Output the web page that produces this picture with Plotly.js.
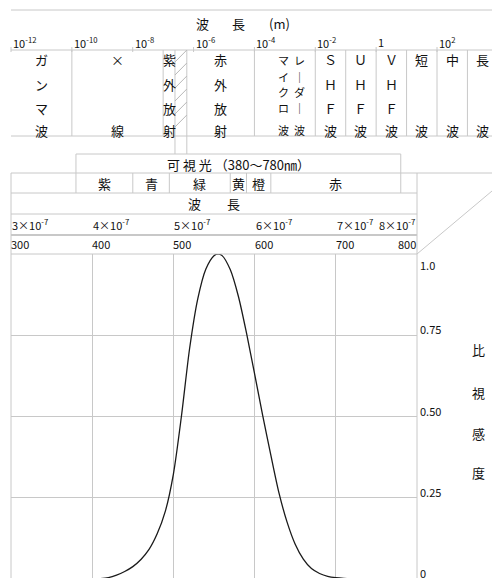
<!DOCTYPE html>
<html><head><meta charset="utf-8">
<script src="https://cdn.plot.ly/plotly-3.0.1.min.js"></script>
<style>html,body{margin:0;padding:0;overflow:hidden;background:#fff}</style>
</head><body>
<div id="chart" style="width:492px;height:580px"></div>
<script>
// ---------- data ----------
const wavelengthNm = [400,410,420,430,440,450,460,470,480,490,500,510,520,530,540,550,555,560,570,580,590,600,610,620,630,640,650,660,670,680,690,700,710,720];
const relativeLuminosity = [0.0004,0.0012,0.004,0.0116,0.023,0.038,0.06,0.091,0.139,0.208,0.323,0.503,0.71,0.862,0.954,0.995,1.0,0.995,0.952,0.87,0.757,0.631,0.503,0.381,0.265,0.175,0.107,0.061,0.032,0.017,0.0082,0.0041,0.0021,0.001];

const nmTicks = [300,400,500,600,700,800];
const nmTickLabels = ['300','400','500','600','700','800'];
const meterTickLabels = ['3×10<sup>-7</sup>','4×10<sup>-7</sup>','5×10<sup>-7</sup>','6×10<sup>-7</sup>','7×10<sup>-7</sup>','8×10<sup>-7</sup>'];

const logTickValues = [1e-12,1e-10,1e-8,1e-6,1e-4,1e-2,1,1e2,1e4];
const logTickLabels = ['10<sup>-12</sup>','10<sup>-10</sup>','10<sup>-8</sup>','10<sup>-6</sup>','10<sup>-4</sup>','10<sup>-2</sup>','1','10<sup>2</sup>','10<sup>4</sup>'];

const bandEdgesM = [1e-12,1e-10,1e-7,2.45e-7,6e-7,1e-4,1e-2,1e-1,1,10,100,1000,1e4];
const bandLabels = ['ガンマ波','×線','紫外放射','','赤外放射',['マイクロ波','レーダー波'],'ＳＨＦ波','ＵＨＦ波','ＶＨＦ波','短波','中波','長波'];

const colorNames = ['紫','青','緑','黄','橙','赤'];
const colorEdgesNm = [380,450,495,570,590,620,780];
const visibleLabel = '可 視 光 （380～780㎚）';

const yTickValues = [1.0,0.75,0.5,0.25,0];
const yTickLabels = ['1.0','0.75','0.50','0.25','0'];
const yTitleChars = ['比','視','感','度'];

// ---------- geometry helpers (pixels -> paper) ----------
const W = 492, H = 580;
const px = p => p / W;
const py = p => 1 - p / H;
const F = 'Noto Sans CJK JP, sans-serif';
const GRID = '#c8c8c8';
const TXT = '#111';
const L = 11, R = 417, T = 254, B = 579;
const pxPerDecade = (437 - 11) / 14;
const logRange = [-12 - 11 / pxPerDecade, -12 + (W - 11) / pxPerDecade];

const shapes = [];
const ann = [];
function pline(x0, y0, x1, y1, w) {
  shapes.push({type:'line', xref:'paper', yref:'paper', x0:px(x0), x1:px(x1), y0:py(y0), y1:py(y1), line:{color:GRID, width:w||1}});
}
function text(t, x, xref, yPix, opts) {
  const o = Object.assign({text:t, x:x, xref:xref, y:py(yPix), yref:'paper', showarrow:false,
    xanchor:'center', yanchor:'middle', font:{family:F, size:13, color:TXT}}, opts || {});
  ann.push(o);
}

// ---------- top electromagnetic spectrum ----------
pline(L, 10, W, 10);
pline(L, 50, W, 50);
pline(L, 136, W, 136);
text('波', px(202), 'paper', 23);
text('長', px(238), 'paper', 23);
text('(m)', px(279), 'paper', 23);
logTickValues.forEach((v, i) => {
  shapes.push({type:'line', xref:'x2', yref:'paper', x0:v, x1:v, y0:py(47), y1:py(52), line:{color:GRID, width:1}});
  text(logTickLabels[i], Math.log10(v), 'x2', 42,
       {xanchor:'left', xshift: i === logTickValues.length - 1 ? -17 : 0, font:{family:F, size:11, color:TXT}});
});
bandEdgesM.forEach((e, i) => {
  if (i === 0 || i === bandEdgesM.length - 1) return;
  const low = (e === 2.45e-7 || e === 6e-7) ? 154 : 136;
  shapes.push({type:'line', xref:'x2', yref:'paper', x0:e, x1:e, y0:py(50), y1:py(low), line:{color:GRID, width:1}});
});
// hatching of the visible band (diagonal strokes between UV and IR edges)
for (let yb = 62; yb <= 136; yb += 13) {
  shapes.push({type:'line', xref:'x2', yref:'paper', x0:2.45e-7, x1:6e-7, y0:py(yb), y1:py(yb - 12), line:{color:'#b8b8b8', width:1}});
}
const rows4 = [60, 84, 108, 130], rows5 = [60, 77, 92, 108, 130];
bandLabels.forEach((lab, i) => {
  if (!lab) return;
  const c = (Math.log10(bandEdgesM[i]) + Math.log10(bandEdgesM[i + 1])) / 2;
  const cols = Array.isArray(lab) ? lab : [lab];
  cols.forEach((s, k) => {
    const ch = Array.from(s);
    const rows = ch.length === 5 ? rows5 : ch.length === 2 ? [60, 130] : rows4;
    const xs = cols.length > 1 ? (k === 0 ? -1 : 15) : 0;
    const sz = cols.length > 1 ? 11 : 13;
    ch.forEach((c1, j) => text(c1 === 'ー' ? '｜' : c1, c, 'x2', rows[j], {xshift: xs, font:{family:F, size:sz, color:TXT}}));
  });
});

// ---------- visible light table ----------
shapes.push({type:'line', xref:'x', yref:'paper', x0:colorEdgesNm[0], x1:colorEdgesNm[colorEdgesNm.length-1], y0:py(154), y1:py(154), line:{color:GRID, width:1}});
[colorEdgesNm[0], colorEdgesNm[colorEdgesNm.length-1]].forEach(v =>
  shapes.push({type:'line', xref:'x', yref:'paper', x0:v, x1:v, y0:py(154), y1:py(193), line:{color:GRID, width:1}}));
colorEdgesNm.slice(1, -1).forEach(v =>
  shapes.push({type:'line', xref:'x', yref:'paper', x0:v, x1:v, y0:py(173), y1:py(193), line:{color:GRID, width:1}}));
text(visibleLabel, (colorEdgesNm[0] + colorEdgesNm[colorEdgesNm.length-1]) / 2, 'x', 164, {font:{family:F, size:13, color:TXT}});
colorNames.forEach((n, i) => text(n, (colorEdgesNm[i] + colorEdgesNm[i+1]) / 2, 'x', 183));

pline(L, 173, W, 173);
pline(L, 193, R, 193);
pline(L, 214, R, 214);
pline(L, 235, R, 235, 2);
pline(L, T, R, T);
pline(L, 173, L, B);
pline(R, 173, R, B);
pline(R, T, W, 191);
text('波　　長', (nmTicks[0] + nmTicks[nmTicks.length-1]) / 2, 'x', 203);
nmTicks.forEach((v, i) => {
  const last = i === nmTicks.length - 1;
  const o = {xanchor: last ? 'right' : 'left', font:{family:F, size:11, color:TXT}};
  text(meterTickLabels[i], v, 'x', 224, Object.assign({xshift: last ? 0 : -1}, o));
  text(nmTickLabels[i], v, 'x', 244, Object.assign({xshift: last ? 1 : -2}, o));
});

// ---------- right axis labels ----------
yTickValues.forEach((v, i) => {
  ann.push({text:yTickLabels[i], x:px(418), xref:'paper', y:v, yref:'y', xanchor:'left', yanchor:'middle',
            yshift: v === 1 ? -11 : 6, showarrow:false, font:{family:F, size:11, color:TXT}});
});
[349, 392, 433, 472].forEach((y, i) => text(yTitleChars[i], px(478), 'paper', y));

// ---------- traces ----------
const traces = [
  {x: wavelengthNm, y: relativeLuminosity, type:'scatter', mode:'lines',
   line:{color:'#1a1a1a', width:1.3, shape:'spline', smoothing:0.8}, hoverinfo:'skip', showlegend:false},
  {x: [logTickValues[0], logTickValues[logTickValues.length-1]], y:[0.5,0.5], xaxis:'x2', yaxis:'y2',
   type:'scatter', mode:'markers', marker:{opacity:0}, hoverinfo:'skip', showlegend:false}
];

const layout = {
  width: W, height: H, margin:{l:0, r:0, t:0, b:0},
  paper_bgcolor:'#fff', plot_bgcolor:'rgba(0,0,0,0)', showlegend:false,
  xaxis:{domain:[px(L), px(R)], range:[nmTicks[0], nmTicks[nmTicks.length-1]], tickvals:nmTicks,
         showgrid:true, gridcolor:GRID, gridwidth:1, showticklabels:false, ticks:'', zeroline:false, showline:false, fixedrange:true},
  yaxis:{domain:[py(B), py(T)], range:[0, 1], tickvals:yTickValues,
         showgrid:true, gridcolor:GRID, gridwidth:1, showticklabels:false, ticks:'', zeroline:false, showline:false, fixedrange:true},
  xaxis2:{type:'log', domain:[0, 1], range:logRange, anchor:'y2', showgrid:false, showticklabels:false,
          ticks:'', zeroline:false, showline:false, fixedrange:true},
  yaxis2:{domain:[py(136), py(50)], range:[0, 1], anchor:'x2', showgrid:false, showticklabels:false,
          ticks:'', zeroline:false, showline:false, fixedrange:true},
  shapes: shapes, annotations: ann
};
Plotly.newPlot('chart', traces, layout, {displayModeBar:false, staticPlot:true});
</script>
</body></html>
